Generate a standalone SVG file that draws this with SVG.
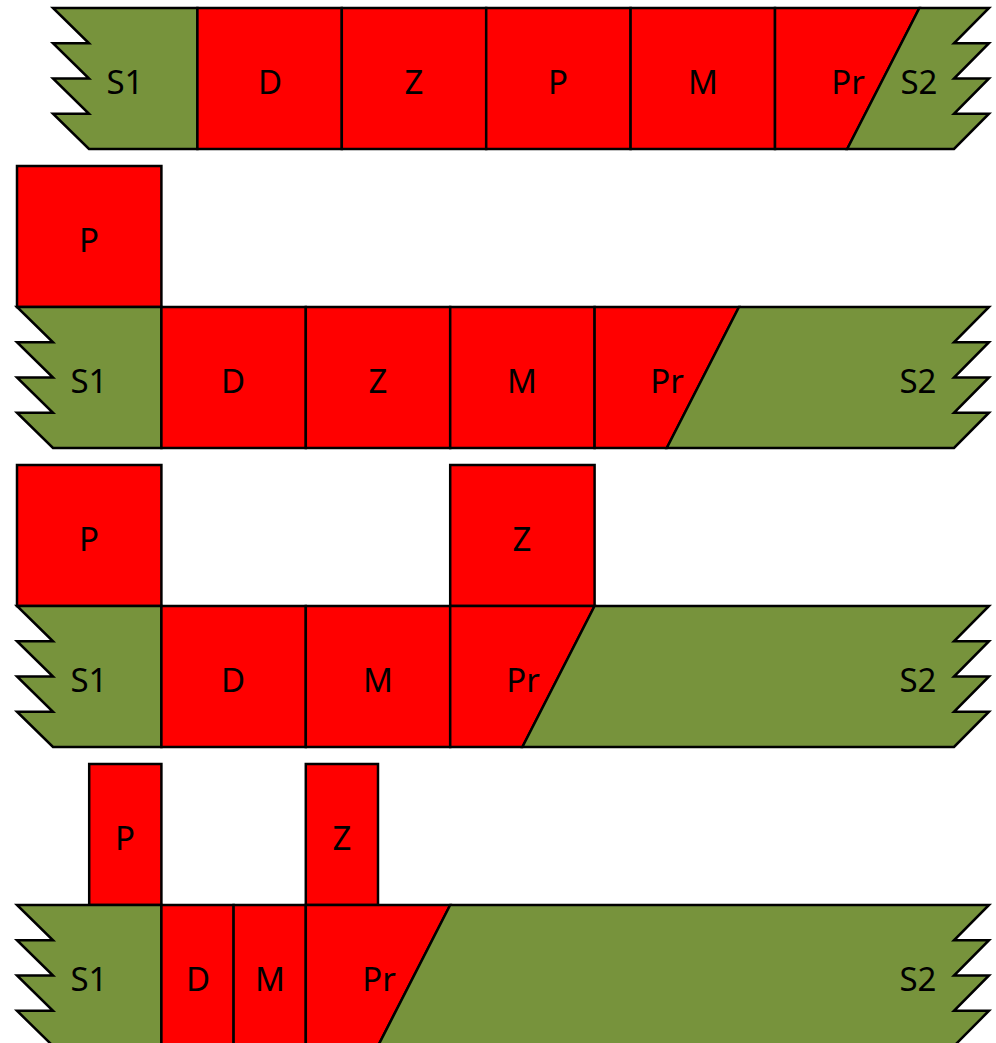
<svg xmlns="http://www.w3.org/2000/svg" width="996" height="1043" viewBox="0 0 996 1043">
<style>
.g{fill:#77933C;stroke:#000;stroke-width:2.5;stroke-linejoin:miter}
.r{fill:#FF0000;stroke:#000;stroke-width:2.5;stroke-linejoin:miter}
text{font-family:"Noto Sans","Open Sans","Liberation Sans",sans-serif;font-size:33px;fill:#000;text-anchor:middle}
</style>
<rect width="996" height="1043" fill="#fff"/>
<g id="row1">
<polygon class="g" points="53,8 197.4,8 197.4,149 89,149 53,113.75 89,113.75 53,78.5 89,78.5 53,43.25 89,43.25"/>
<rect class="r" x="197.4" y="8" width="144.4" height="141"/>
<rect class="r" x="341.8" y="8" width="144.4" height="141"/>
<rect class="r" x="486.2" y="8" width="144.4" height="141"/>
<rect class="r" x="630.6" y="8" width="144.4" height="141"/>
<polygon class="r" points="775,8 919.4,8 847.2,149 775,149"/>
<polygon class="g" points="919.4,8 989,8 954,43.25 989,43.25 954,78.5 989,78.5 954,113.75 989,113.75 954,149 847.2,149"/>
<text x="125" y="94">S1</text>
<text x="270" y="94">D</text>
<text x="414" y="94">Z</text>
<text x="558" y="94">P</text>
<text x="703" y="94">M</text>
<text x="848" y="94">Pr</text>
<text x="919" y="94">S2</text>
</g>
<g id="row2">
<rect class="r" x="17" y="166" width="144.4" height="141"/>
<polygon class="g" points="17,307 161.4,307 161.4,448 53,448 17,412.75 53,412.75 17,377.5 53,377.5 17,342.25 53,342.25"/>
<rect class="r" x="161.4" y="307" width="144.4" height="141"/>
<rect class="r" x="305.8" y="307" width="144.4" height="141"/>
<rect class="r" x="450.2" y="307" width="144.4" height="141"/>
<polygon class="r" points="594.6,307 739,307 666.8,448 594.6,448"/>
<polygon class="g" points="739,307 989,307 954,342.25 989,342.25 954,377.5 989,377.5 954,412.75 989,412.75 954,448 666.8,448"/>
<text x="89" y="252">P</text>
<text x="89" y="393">S1</text>
<text x="233" y="393">D</text>
<text x="378" y="393">Z</text>
<text x="522" y="393">M</text>
<text x="667" y="393">Pr</text>
<text x="918" y="393">S2</text>
</g>
<g id="row3">
<rect class="r" x="17" y="465" width="144.4" height="141"/>
<rect class="r" x="450.2" y="465" width="144.4" height="141"/>
<polygon class="g" points="17,606 161.4,606 161.4,747 53,747 17,711.75 53,711.75 17,676.5 53,676.5 17,641.25 53,641.25"/>
<rect class="r" x="161.4" y="606" width="144.4" height="141"/>
<rect class="r" x="305.8" y="606" width="144.4" height="141"/>
<polygon class="r" points="450.2,606 594.6,606 522.4,747 450.2,747"/>
<polygon class="g" points="594.6,606 989,606 954,641.25 989,641.25 954,676.5 989,676.5 954,711.75 989,711.75 954,747 522.4,747"/>
<text x="89" y="551">P</text>
<text x="522" y="551">Z</text>
<text x="89" y="692">S1</text>
<text x="233" y="692">D</text>
<text x="378" y="692">M</text>
<text x="523" y="692">Pr</text>
<text x="918" y="692">S2</text>
</g>
<g id="row4">
<rect class="r" x="89.2" y="764" width="72.2" height="141"/>
<rect class="r" x="305.8" y="764" width="72.2" height="141"/>
<polygon class="g" points="17,905 161.4,905 161.4,1046 53,1046 17,1010.75 53,1010.75 17,975.5 53,975.5 17,940.25 53,940.25"/>
<rect class="r" x="161.4" y="905" width="72.2" height="141"/>
<rect class="r" x="233.6" y="905" width="72.2" height="141"/>
<polygon class="r" points="305.8,905 450.2,905 378,1046 305.8,1046"/>
<polygon class="g" points="450.2,905 989,905 954,940.25 989,940.25 954,975.5 989,975.5 954,1010.75 989,1010.75 954,1046 378,1046"/>
<text x="125" y="850">P</text>
<text x="342" y="850">Z</text>
<text x="89" y="991">S1</text>
<text x="198" y="991">D</text>
<text x="270" y="991">M</text>
<text x="379" y="991">Pr</text>
<text x="918" y="991">S2</text>
</g>
<g id="connectors"/>
</svg>
